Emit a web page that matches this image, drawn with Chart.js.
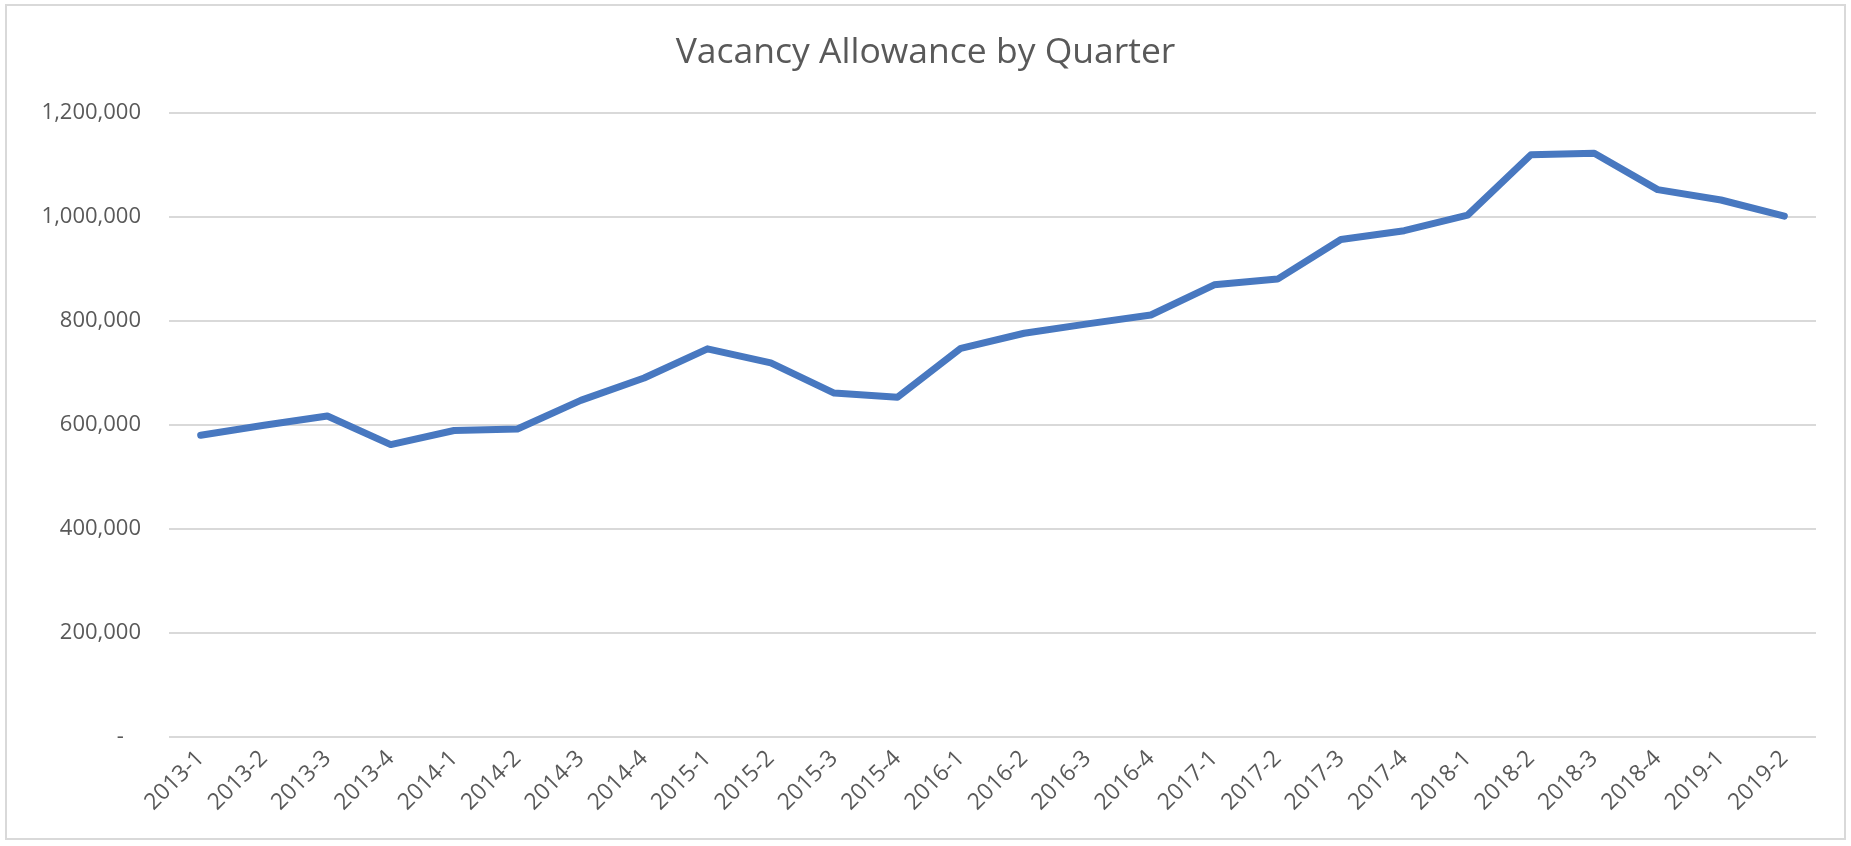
<!DOCTYPE html>
<html>
<head>
<meta charset="utf-8">
<script src="https://cdn.jsdelivr.net/npm/chart.js@4/dist/chart.umd.min.js"></script>
<style>
  html, body { margin: 0; padding: 0; background: #ffffff; }
  #wrap { position: relative; width: 1851px; height: 846px; }
  #frame { position: absolute; left: 5px; top: 4px; width: 1841px; height: 836px; border: 2px solid #d9d9d9; box-sizing: border-box; pointer-events: none; }
  canvas { position: absolute; left: 0; top: 0; }
</style>
</head>
<body>
<div id="wrap">
  <canvas id="c" width="1851" height="846"></canvas>
  <div id="frame"></div>
</div>
<script>
const categories = [
  "2013-1","2013-2","2013-3","2013-4",
  "2014-1","2014-2","2014-3","2014-4",
  "2015-1","2015-2","2015-3","2015-4",
  "2016-1","2016-2","2016-3","2016-4",
  "2017-1","2017-2","2017-3","2017-4",
  "2018-1","2018-2","2018-3","2018-4",
  "2019-1","2019-2"
];
const vacancyAllowance = [
  580000, 599000, 617000, 562000,
  589000, 592000, 647000, 690000,
  746000, 719000, 661000, 653000,
  747000, 776000, 794000, 811000,
  869000, 880000, 956000, 973000,
  1003000, 1119000, 1122000, 1052000,
  1032000, 1001000
];
const yTicks = [0, 200000, 400000, 600000, 800000, 1000000, 1200000];
const chartTitle = "Vacancy Allowance by Quarter";

const FONT = "'Open Sans', 'Noto Sans', sans-serif";
const TEXT = "#595959";

new Chart(document.getElementById('c'), {
  type: 'line',
  data: {
    labels: categories,
    datasets: [{
      label: 'Vacancy Allowance',
      data: vacancyAllowance,
      borderColor: '#4878c0',
      borderWidth: 7,
      pointRadius: 0,
      pointHoverRadius: 0,
      tension: 0,
      fill: false,
      borderCapStyle: 'round',
      borderJoinStyle: 'round'
    }]
  },
  options: {
    responsive: false,
    animation: false,
    devicePixelRatio: 1,
    layout: { padding: { left: 35, right: 35, top: 0, bottom: 9 } },
    plugins: {
      legend: { display: false },
      tooltip: { enabled: false },
      title: {
        display: true,
        text: chartTitle,
        color: TEXT,
        font: { family: FONT, size: 35.5, weight: 'normal' },
        padding: { top: 32, bottom: 38 }
      }
    },
    scales: {
      x: {
        type: 'category',
        offset: true,
        grid: { display: false, drawTicks: false },
        border: { display: false },
        ticks: {
          color: TEXT,
          font: { family: FONT, size: 23 },
          minRotation: 45,
          maxRotation: 45,
          autoSkip: false,
          padding: 8
        },
        afterFit: (s) => { s.height = 100; }
      },
      y: {
        min: 0,
        max: 1200000,
        afterBuildTicks: (s) => { s.ticks = yTicks.map(v => ({ value: v })); },
        grid: { color: '#d9d9d9', lineWidth: 2, drawTicks: false },
        border: { display: false },
        ticks: {
          color: TEXT,
          font: { family: FONT, size: 22 },
          padding: 28,
          callback: (v) => v === 0 ? '-   ' : Number(v).toLocaleString('en-US')
        },
        afterFit: (s) => { s.width = 134; }
      }
    }
  }
});
</script>
</body>
</html>
